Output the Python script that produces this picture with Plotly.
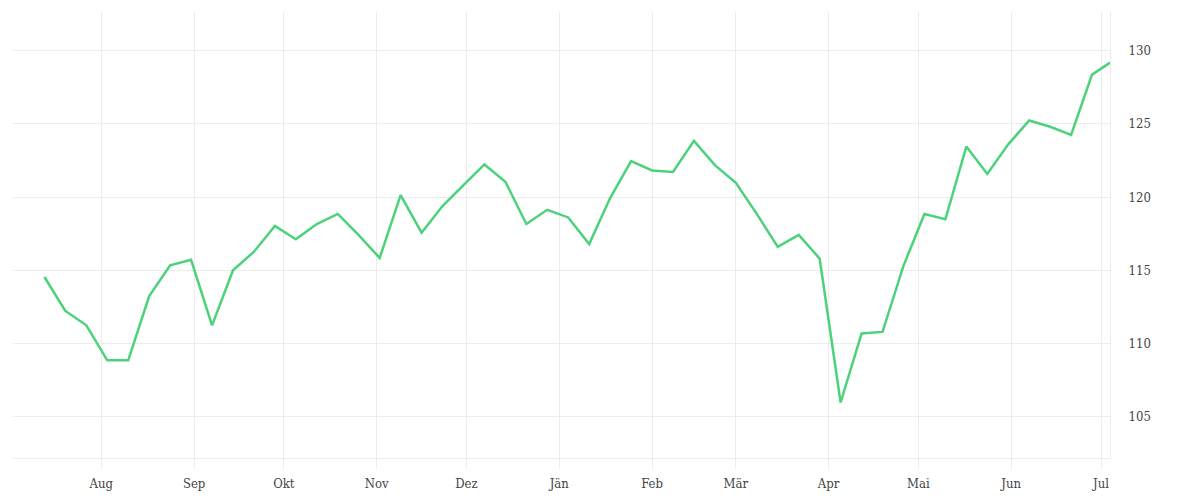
import pandas as pd
import plotly.graph_objects as go

# weekly closing values
dates = pd.date_range("2022-07-13", periods=51, freq="7D").append(
    pd.DatetimeIndex(["2023-07-04"]))
values = [
    114.54, 112.22, 111.24, 108.85, 108.85, 113.24, 115.34, 115.72, 111.24, 115.0,
    116.27, 118.03, 117.12, 118.16, 118.85, 117.4, 115.84, 120.14, 117.57, 119.39,
    120.82, 122.23, 121.05, 118.16, 119.13, 118.61, 116.79, 119.93, 122.46, 121.82,
    121.71, 123.84, 122.18, 120.97, 118.85, 116.6, 117.42, 115.8, 105.97, 110.68,
    110.79, 115.3, 118.84, 118.48, 123.45, 121.58, 123.6, 125.23, 124.8, 124.25,
    128.36, 129.18,
]
month_ticks = pd.date_range("2022-08-01", "2023-07-01", freq="MS")
month_labels = ["Aug", "Sep", "Okt", "Nov", "Dez", "Jän",
                "Feb", "Mär", "Apr", "Mai", "Jun", "Jul"]
y_ticks = [105, 110, 115, 120, 125, 130]

grid = "#ececec"
font = "DejaVu Serif Condensed, DejaVu Serif, serif"

fig = go.Figure()
fig.add_trace(go.Scatter(
    x=dates, y=values, mode="lines",
    line=dict(color="#4cd27b", width=2.5),
    hoverinfo="x+y", showlegend=False,
))

# page body adds 8px, so margins are a bit smaller than they look
fig.update_layout(
    width=1200, height=500,
    margin=dict(l=5, r=98, t=4, b=50),
    plot_bgcolor="white", paper_bgcolor="white",
    font=dict(family=font, size=13, color="#444"),
)
fig.update_xaxes(
    range=["2022-07-02 12:00", "2023-07-04"],
    tickvals=month_ticks, ticktext=month_labels,
    showgrid=True, gridcolor=grid, gridwidth=1,
    ticks="outside", ticklen=10, tickcolor=grid,
    ticklabelstandoff=3,
    showline=True, linecolor=grid, linewidth=1,
    zeroline=False,
)
fig.update_yaxes(
    side="right", range=[102.18, 132.64],
    tickvals=y_ticks,
    showgrid=True, gridcolor=grid, gridwidth=1,
    showline=True, linecolor=grid, linewidth=1,
    ticklabelstandoff=15,
    zeroline=False,
)

fig.write_html("out.html")
